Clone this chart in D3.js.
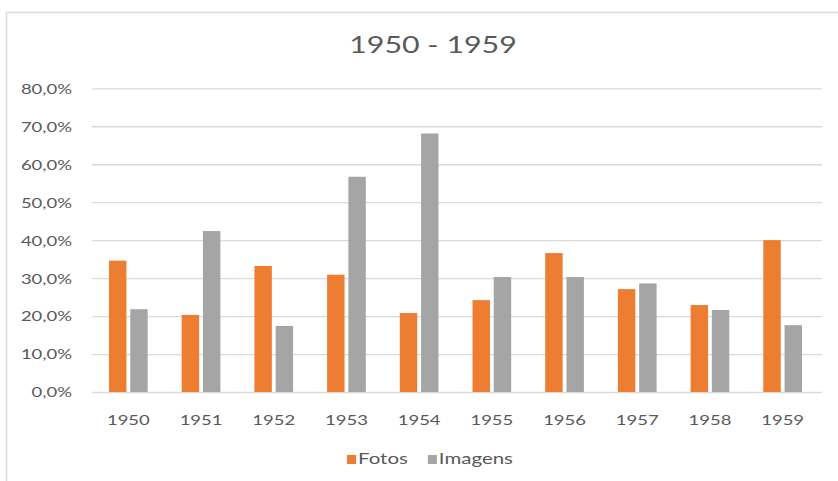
<!DOCTYPE html>
<html>
<head>
<meta charset="utf-8">
<script src="https://cdn.jsdelivr.net/npm/d3@7"></script>
<style>
  html, body { margin: 0; padding: 0; background: #fff; }
  svg { display: block; }
  text { font-family: Lato, "Open Sans", sans-serif; fill: #595959; }
</style>
</head>
<body>
<svg id="chart" width="838" height="481"></svg>
<script>
// Share of photos vs. images per year, 1950–1959
const years = ["1950", "1951", "1952", "1953", "1954", "1955", "1956", "1957", "1958", "1959"];
const fotos = [0.346, 0.203, 0.332, 0.309, 0.208, 0.242, 0.366, 0.271, 0.229, 0.400];
const imagens = [0.218, 0.424, 0.174, 0.567, 0.681, 0.303, 0.303, 0.286, 0.216, 0.176];
const seriesNames = ["Fotos", "Imagens"];
const seriesColors = ["#ED7D31", "#A5A5A5"];
const yTicks = [0, 0.1, 0.2, 0.3, 0.4, 0.5, 0.6, 0.7, 0.8];
const title = "1950 - 1959";

// horizontal stretch applied to all lettering
const SX = 1.32;

const svg = d3.select("#chart");

// outer chart frame
svg.append("rect")
  .attr("x", 6.5).attr("y", 12.5)
  .attr("width", 900).attr("height", 600)
  .attr("fill", "none").attr("stroke", "#DCDCDC").attr("stroke-width", 1.5);

const plot = { left: 92, right: 819, top: 88.3, bottom: 392 };

const x0 = d3.scaleBand().domain(years)
  .range([plot.left, plot.right])
  .paddingInner(0.468).paddingOuter(0.234);
const x1 = d3.scaleBand().domain(seriesNames)
  .range([0, x0.bandwidth()])
  .paddingInner(0.18);
const y = d3.scaleLinear().domain([0, 0.8]).range([plot.bottom, plot.top]);
const color = d3.scaleOrdinal().domain(seriesNames).range(seriesColors);

const pct = d3.formatLocale({ decimal: ",", thousands: ".", grouping: [3], currency: ["", "€"] }).format(".1%");

// stretched text helper
function stretchedText(parent, x, yPos, str, size, anchor) {
  const g = parent.append("g").attr("transform", `translate(${x},${yPos}) scale(${SX},1)`);
  return g.append("text").attr("text-anchor", anchor || "middle")
    .style("font-size", size + "px").text(str);
}

// title
stretchedText(svg, 433, 53, title, 23, "middle");

// y axis with gridlines
const yAxis = svg.append("g")
  .attr("transform", `translate(${plot.left},0)`)
  .call(d3.axisLeft(y).tickValues(yTicks).tickFormat(pct)
    .tickSize(-(822 - plot.left)).tickPadding(0));
yAxis.select(".domain").remove();
yAxis.selectAll(".tick line").attr("stroke", "#D9D9D9").attr("stroke-width", 1.3);
yAxis.selectAll(".tick text")
  .attr("x", -20 / SX)
  .attr("dy", "0.35em")
  .attr("transform", `scale(${SX},1)`)
  .style("font-size", "14px")
  .style("font-family", "Lato, sans-serif")
  .attr("fill", "#595959");

// bars
const rows = years.map((yr, i) => ({ year: yr, values: [
  { key: seriesNames[0], value: fotos[i] },
  { key: seriesNames[1], value: imagens[i] }
]}));

svg.append("g").selectAll("g")
  .data(rows).join("g")
  .attr("transform", d => `translate(${x0(d.year)},0)`)
  .selectAll("rect")
  .data(d => d.values).join("rect")
  .attr("x", d => x1(d.key))
  .attr("width", x1.bandwidth())
  .attr("y", d => y(d.value))
  .attr("height", d => y(0) - y(d.value))
  .attr("fill", d => color(d.key));

// x axis labels
const xAxis = svg.append("g")
  .attr("transform", `translate(0,${plot.bottom})`)
  .call(d3.axisBottom(x0).tickSize(0).tickPadding(0));
xAxis.select(".domain").remove();
xAxis.selectAll(".tick text")
  .attr("y", 0)
  .attr("dy", "33")
  .attr("transform", `scale(${SX},1)`)
  .style("font-size", "14px")
  .style("font-family", "Lato, sans-serif")
  .attr("fill", "#595959");

// legend
const legend = svg.append("g");
const items = legend.selectAll("g").data(seriesNames).join("g");
items.append("rect").attr("width", 9).attr("height", 9).attr("y", -9)
  .attr("fill", d => color(d));
items.append("g").attr("transform", `translate(11,0) scale(${SX},1)`)
  .append("text").style("font-size", "15.5px").text(d => d);
let cursor = 0;
items.each(function() {
  const w = 11 + d3.select(this).select("text").node().getComputedTextLength() * SX;
  d3.select(this).attr("transform", `translate(${cursor},0)`);
  cursor += w + 20;
});
const total = cursor - 20;
legend.attr("transform", `translate(${430 - total / 2},464)`);
</script>
</body>
</html>
